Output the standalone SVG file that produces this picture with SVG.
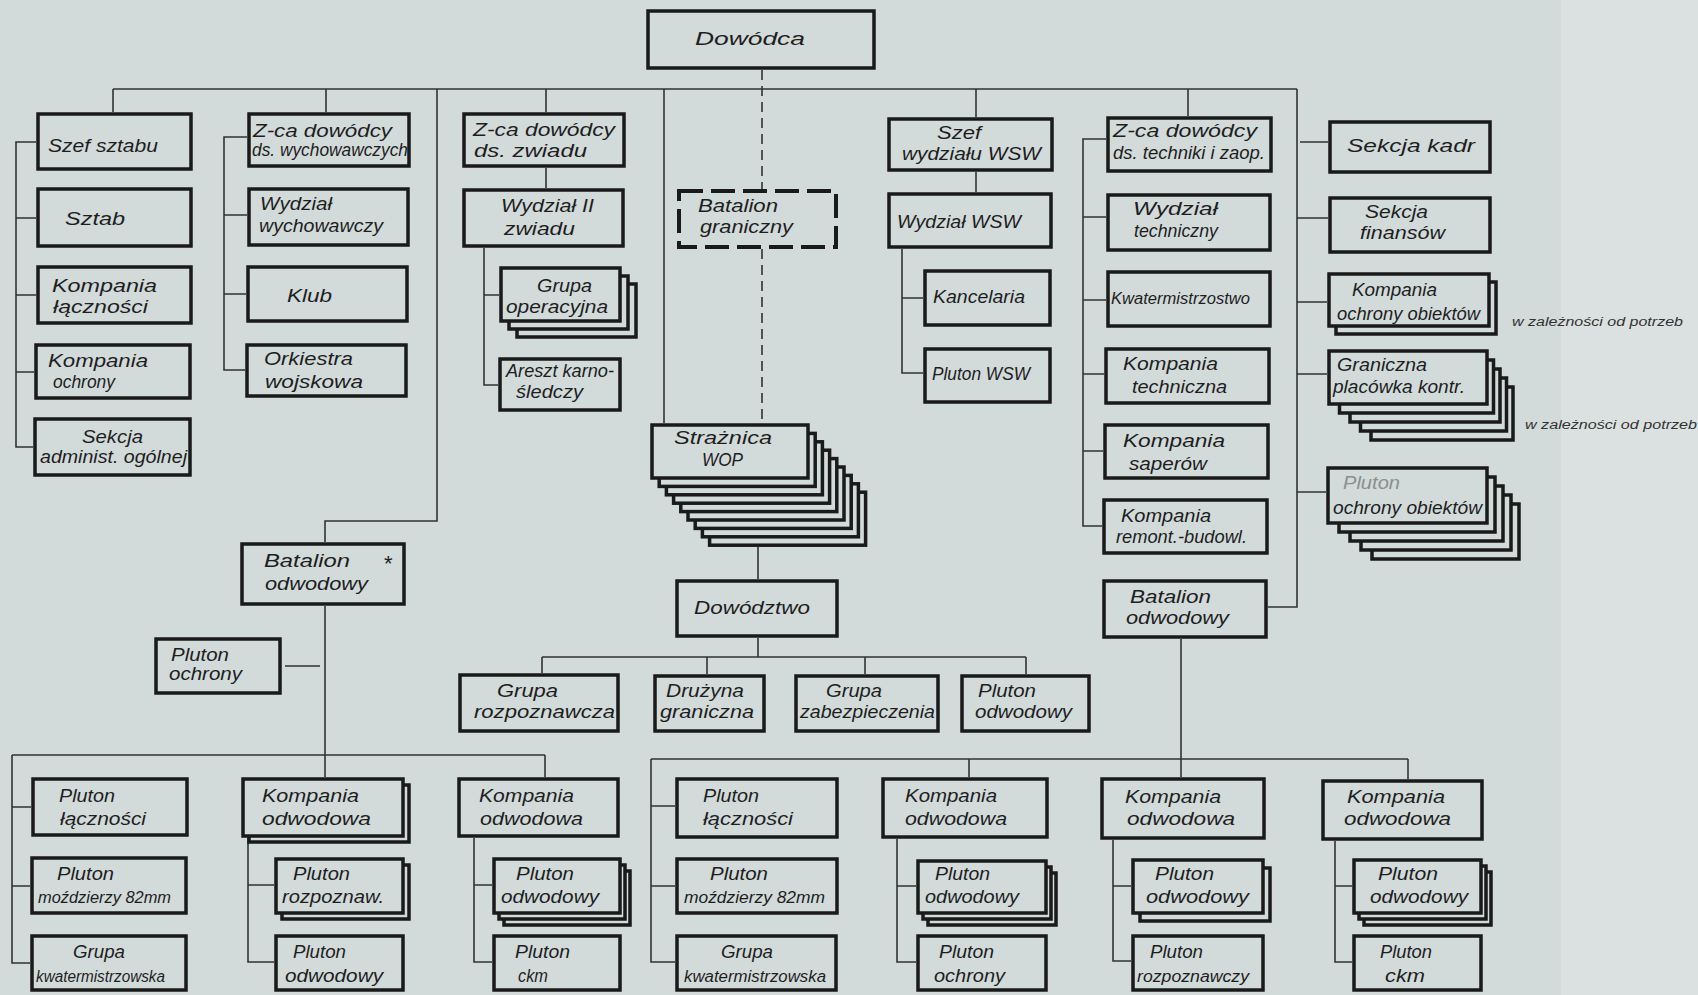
<svg xmlns="http://www.w3.org/2000/svg" width="1698" height="995" viewBox="0 0 1698 995">
<style>
.b{fill:#d2dada;stroke:#1a1a1a;stroke-width:3.5}
.bd{fill:#d2dada;stroke:#1a1a1a;stroke-width:4;stroke-dasharray:24 8}
.c{fill:none;stroke:#333;stroke-width:1.6}
.d{fill:none;stroke:#333;stroke-width:1.6;stroke-dasharray:10 6}
.t{font-family:"Liberation Sans","DejaVu Sans",sans-serif;font-style:italic;font-size:19px;fill:#1e1e1e}
.s{font-size:16px}
.n{font-size:12px;fill:#333}
.g{fill:#8a8f8f}
</style>
<rect x="0" y="0" width="1698" height="995" fill="#d2dada"/>
<rect x="1561" y="0" width="137" height="995" fill="#dbe1e0"/>

<g id="connectors">
<path class="c" d="M113 89H1297M113 89V112M326 89V112M437 89V521H325V542M546 89V112M546 168V188M664 89V423M976 89V117M976 172V192M1188 89V116M1297 89V607H1268"/>
<path class="d" d="M762 70V189M762 249V423"/>
<path class="c" d="M36 142H16V447H33M16 218H36M16 295H36M16 372H34"/>
<path class="c" d="M247 137H224V370H245M224 215H247M224 294H246"/>
<path class="c" d="M484 248V385H498M484 295H499"/>
<path class="c" d="M902 249V373H923M902 298H923"/>
<path class="c" d="M1106 139H1083V526H1102M1083 217H1106M1083 300H1106M1083 374H1104M1083 451H1103"/>
<path class="c" d="M1300 142H1328M1297 218H1328M1297 302H1327M1297 374H1327M1297 492H1326"/>
<path class="c" d="M758 547V579M758 638V657M542 657H1026M542 657V673M707 657V674M865 657V674M1026 657V674"/>
<path class="c" d="M325 606V777M285 666H320M12 755H545M12 755V963H30M12 807H31M12 886H30M545 755V777"/>
<path class="c" d="M248 838V962H274M248 885H274M474 838V962H492M474 885H492"/>
<path class="c" d="M1181 639V777M651 759H1408M651 759V962H675M651 806H675M651 886H675M969 759V777M1408 759V779"/>
<path class="c" d="M897 839V962H916M897 886H916M1113 840V961H1131M1113 886H1131M1335 841V962H1352M1335 886H1352"/>
</g>

<g id="dowodca"><rect class="b" x="648" y="11" width="226" height="57"/><text class="t" x="695" y="45" textLength="110" lengthAdjust="spacingAndGlyphs">Dowódca</text></g>

<g id="szef-sztabu"><rect class="b" x="38" y="114" width="153" height="55"/><text class="t" x="48" y="152" textLength="110" lengthAdjust="spacingAndGlyphs">Szef sztabu</text></g>
<g id="sztab"><rect class="b" x="38" y="189" width="153" height="57"/><text class="t" x="65" y="225" textLength="60" lengthAdjust="spacingAndGlyphs">Sztab</text></g>
<g id="kompania-lacznosci"><rect class="b" x="38" y="267" width="153" height="56"/><text class="t" x="52" y="292" textLength="105" lengthAdjust="spacingAndGlyphs">Kompania</text><text class="t" x="53" y="313" textLength="95" lengthAdjust="spacingAndGlyphs">łączności</text></g>
<g id="kompania-ochrony"><rect class="b" x="36" y="345" width="154" height="53"/><text class="t" x="48" y="367" textLength="100" lengthAdjust="spacingAndGlyphs">Kompania</text><text class="t" x="53" y="388" textLength="62" lengthAdjust="spacingAndGlyphs">ochrony</text></g>
<g id="sekcja-administ"><rect class="b" x="35" y="419" width="155" height="56"/><text class="t" x="82" y="443" textLength="61" lengthAdjust="spacingAndGlyphs">Sekcja</text><text class="t" x="40" y="463" textLength="147" lengthAdjust="spacingAndGlyphs">administ. ogólnej</text></g>

<g id="zca-wych"><rect class="b" x="249" y="114" width="160" height="52"/><text class="t" x="253" y="137" textLength="139" lengthAdjust="spacingAndGlyphs">Z-ca  dowódcy</text><text class="t" x="252" y="156" textLength="156" lengthAdjust="spacingAndGlyphs">ds. wychowawczych</text></g>
<g id="wydzial-wych"><rect class="b" x="249" y="189" width="159" height="56"/><text class="t" x="260" y="210" textLength="72" lengthAdjust="spacingAndGlyphs">Wydział</text><text class="t" x="259" y="232" textLength="124" lengthAdjust="spacingAndGlyphs">wychowawczy</text></g>
<g id="klub"><rect class="b" x="248" y="267" width="159" height="54"/><text class="t" x="287" y="302" textLength="45" lengthAdjust="spacingAndGlyphs">Klub</text></g>
<g id="orkiestra"><rect class="b" x="247" y="345" width="159" height="51"/><text class="t" x="264" y="365" textLength="89" lengthAdjust="spacingAndGlyphs">Orkiestra</text><text class="t" x="265" y="388" textLength="98" lengthAdjust="spacingAndGlyphs">wojskowa</text></g>

<g id="zca-zwiadu"><rect class="b" x="464" y="114" width="160" height="52"/><text class="t" x="473" y="136" textLength="142" lengthAdjust="spacingAndGlyphs">Z-ca dowódcy</text><text class="t" x="474" y="157" textLength="113" lengthAdjust="spacingAndGlyphs">ds. zwiadu</text></g>
<g id="wydzial-ii"><rect class="b" x="464" y="190" width="159" height="56"/><text class="t" x="501" y="212" textLength="93" lengthAdjust="spacingAndGlyphs">Wydział II</text><text class="t" x="504" y="235" textLength="71" lengthAdjust="spacingAndGlyphs">zwiadu</text></g>
<g id="grupa-operacyjna"><rect class="b" x="517" y="284" width="119" height="53"/><rect class="b" x="509" y="276" width="119" height="53"/><rect class="b" x="501" y="268" width="119" height="53"/><text class="t" x="537" y="292" textLength="55" lengthAdjust="spacingAndGlyphs">Grupa</text><text class="t" x="506" y="313" textLength="102" lengthAdjust="spacingAndGlyphs">operacyjna</text></g>
<g id="areszt"><rect class="b" x="500" y="359" width="120" height="51"/><text class="t" x="506" y="377" textLength="108" lengthAdjust="spacingAndGlyphs">Areszt karno-</text><text class="t" x="516" y="398" textLength="67" lengthAdjust="spacingAndGlyphs">śledczy</text></g>

<g id="batalion-graniczny"><rect class="bd" x="679" y="191" width="157" height="56"/><text class="t" x="698" y="212" textLength="80" lengthAdjust="spacingAndGlyphs">Batalion</text><text class="t" x="700" y="233" textLength="93" lengthAdjust="spacingAndGlyphs">graniczny</text></g>

<g id="straznica-wop">
<rect class="b" x="709.6" y="492.2" width="156" height="53"/>
<rect class="b" x="702.4" y="483.8" width="156" height="53"/>
<rect class="b" x="695.2" y="475.4" width="156" height="53"/>
<rect class="b" x="688" y="467" width="156" height="53"/>
<rect class="b" x="680.8" y="458.6" width="156" height="53"/>
<rect class="b" x="673.6" y="450.2" width="156" height="53"/>
<rect class="b" x="666.4" y="441.8" width="156" height="53"/>
<rect class="b" x="659.2" y="433.4" width="156" height="53"/>
<rect class="b" x="652" y="425" width="156" height="53"/>
<text class="t" x="674" y="444" textLength="98" lengthAdjust="spacingAndGlyphs">Strażnica</text><text class="t" x="702" y="466" textLength="41" lengthAdjust="spacingAndGlyphs">WOP</text></g>

<g id="szef-wsw"><rect class="b" x="889" y="119" width="163" height="51"/><text class="t" x="937" y="139" textLength="44" lengthAdjust="spacingAndGlyphs">Szef</text><text class="t" x="902" y="160" textLength="139" lengthAdjust="spacingAndGlyphs">wydziału WSW</text></g>
<g id="wydzial-wsw"><rect class="b" x="889" y="194" width="162" height="53"/><text class="t" x="897" y="228" textLength="124" lengthAdjust="spacingAndGlyphs">Wydział  WSW</text></g>
<g id="kancelaria"><rect class="b" x="925" y="271" width="125" height="54"/><text class="t" x="933" y="303" textLength="92" lengthAdjust="spacingAndGlyphs">Kancelaria</text></g>
<g id="pluton-wsw"><rect class="b" x="925" y="349" width="125" height="53"/><text class="t" x="932" y="380" textLength="98" lengthAdjust="spacingAndGlyphs">Pluton  WSW</text></g>

<g id="zca-tech"><rect class="b" x="1108" y="118" width="163" height="53"/><text class="t" x="1113" y="137" textLength="144" lengthAdjust="spacingAndGlyphs">Z-ca dowódcy</text><text class="t" x="1113" y="159" textLength="152" lengthAdjust="spacingAndGlyphs">ds. techniki i zaop.</text></g>
<g id="wydzial-tech"><rect class="b" x="1108" y="195" width="162" height="55"/><text class="t" x="1133" y="215" textLength="85" lengthAdjust="spacingAndGlyphs">Wydział</text><text class="t" x="1134" y="237" textLength="84" lengthAdjust="spacingAndGlyphs">techniczny</text></g>
<g id="kwatermistrzostwo"><rect class="b" x="1108" y="272" width="162" height="54"/><text class="t s" x="1111" y="304" textLength="139" lengthAdjust="spacingAndGlyphs">Kwatermistrzostwo</text></g>
<g id="kompania-techniczna"><rect class="b" x="1106" y="349" width="163" height="54"/><text class="t" x="1123" y="370" textLength="95" lengthAdjust="spacingAndGlyphs">Kompania</text><text class="t" x="1132" y="393" textLength="95" lengthAdjust="spacingAndGlyphs">techniczna</text></g>
<g id="kompania-saperow"><rect class="b" x="1105" y="425" width="163" height="53"/><text class="t" x="1123" y="447" textLength="102" lengthAdjust="spacingAndGlyphs">Kompania</text><text class="t" x="1129" y="470" textLength="78" lengthAdjust="spacingAndGlyphs">saperów</text></g>
<g id="kompania-remont"><rect class="b" x="1104" y="500" width="163" height="53"/><text class="t" x="1121" y="522" textLength="90" lengthAdjust="spacingAndGlyphs">Kompania</text><text class="t" x="1116" y="543" textLength="131" lengthAdjust="spacingAndGlyphs">remont.-budowl.</text></g>
<g id="batalion-odwodowy-r"><rect class="b" x="1104" y="581" width="162" height="56"/><text class="t" x="1130" y="603" textLength="81" lengthAdjust="spacingAndGlyphs">Batalion</text><text class="t" x="1126" y="624" textLength="103" lengthAdjust="spacingAndGlyphs">odwodowy</text></g>

<g id="sekcja-kadr"><rect class="b" x="1330" y="122" width="160" height="50"/><text class="t" x="1347" y="152" textLength="128" lengthAdjust="spacingAndGlyphs">Sekcja  kadr</text></g>
<g id="sekcja-finansow"><rect class="b" x="1330" y="198" width="160" height="54"/><text class="t" x="1365" y="218" textLength="63" lengthAdjust="spacingAndGlyphs">Sekcja</text><text class="t" x="1360" y="239" textLength="85" lengthAdjust="spacingAndGlyphs">finansów</text></g>
<g id="kompania-ochrony-obiektow"><rect class="b" x="1336" y="282" width="160" height="52"/><rect class="b" x="1329" y="274" width="160" height="52"/><text class="t" x="1352" y="296" textLength="85" lengthAdjust="spacingAndGlyphs">Kompania</text><text class="t" x="1337" y="320" textLength="143" lengthAdjust="spacingAndGlyphs">ochrony obiektów</text></g>
<g id="graniczna-placowka">
<rect class="b" x="1371" y="387" width="142" height="53"/>
<rect class="b" x="1360.5" y="378" width="146" height="53"/>
<rect class="b" x="1350" y="369" width="150" height="53"/>
<rect class="b" x="1339.5" y="360" width="154" height="53"/>
<rect class="b" x="1329" y="351" width="158" height="53"/>
<text class="t" x="1337" y="371" textLength="90" lengthAdjust="spacingAndGlyphs">Graniczna</text><text class="t" x="1333" y="393" textLength="132" lengthAdjust="spacingAndGlyphs">placówka kontr.</text></g>
<g id="pluton-ochrony-obiektow">
<rect class="b" x="1372" y="504" width="147" height="55"/>
<rect class="b" x="1361" y="495" width="150" height="55"/>
<rect class="b" x="1350" y="486" width="153" height="55"/>
<rect class="b" x="1339" y="477" width="156" height="55"/>
<rect class="b" x="1328" y="468" width="159" height="55"/>
<text class="t g" x="1343" y="489" textLength="57" lengthAdjust="spacingAndGlyphs">Pluton</text><text class="t" x="1333" y="514" textLength="149" lengthAdjust="spacingAndGlyphs">ochrony obiektów</text></g>
<g id="uwaga-1"><text class="t n" x="1512" y="326" textLength="171" lengthAdjust="spacingAndGlyphs">w zależności od potrzeb</text></g>
<g id="uwaga-2"><text class="t n" x="1525" y="429" textLength="172" lengthAdjust="spacingAndGlyphs">w zależności od potrzeb</text></g>

<g id="batalion-odwodowy-l"><rect class="b" x="242" y="544" width="162" height="60"/><text class="t" x="264" y="567" textLength="86" lengthAdjust="spacingAndGlyphs">Batalion</text><text class="t" x="265" y="590" textLength="103" lengthAdjust="spacingAndGlyphs">odwodowy</text><text class="t" x="384" y="571" style="font-size:22px;font-style:normal">*</text></g>
<g id="pluton-ochrony-l"><rect class="b" x="156" y="639" width="124" height="54"/><text class="t" x="171" y="661" textLength="58" lengthAdjust="spacingAndGlyphs">Pluton</text><text class="t" x="169" y="680" textLength="73" lengthAdjust="spacingAndGlyphs">ochrony</text></g>

<g id="dowodztwo"><rect class="b" x="677" y="581" width="160" height="55"/><text class="t" x="694" y="614" textLength="116" lengthAdjust="spacingAndGlyphs">Dowództwo</text></g>
<g id="grupa-rozpoznawcza"><rect class="b" x="460" y="675" width="158" height="56"/><text class="t" x="497" y="697" textLength="61" lengthAdjust="spacingAndGlyphs">Grupa</text><text class="t" x="474" y="718" textLength="141" lengthAdjust="spacingAndGlyphs">rozpoznawcza</text></g>
<g id="druzyna-graniczna"><rect class="b" x="655" y="676" width="109" height="55"/><text class="t" x="666" y="697" textLength="78" lengthAdjust="spacingAndGlyphs">Drużyna</text><text class="t" x="660" y="718" textLength="94" lengthAdjust="spacingAndGlyphs">graniczna</text></g>
<g id="grupa-zabezpieczenia"><rect class="b" x="796" y="676" width="142" height="55"/><text class="t" x="826" y="697" textLength="56" lengthAdjust="spacingAndGlyphs">Grupa</text><text class="t" x="800" y="718" textLength="135" lengthAdjust="spacingAndGlyphs">zabezpieczenia</text></g>
<g id="pluton-odwodowy-m"><rect class="b" x="962" y="676" width="127" height="55"/><text class="t" x="978" y="697" textLength="58" lengthAdjust="spacingAndGlyphs">Pluton</text><text class="t" x="975" y="718" textLength="97" lengthAdjust="spacingAndGlyphs">odwodowy</text></g>

<g id="l-pluton-lacznosci"><rect class="b" x="33" y="779" width="154" height="56"/><text class="t" x="59" y="802" textLength="56" lengthAdjust="spacingAndGlyphs">Pluton</text><text class="t" x="60" y="825" textLength="86" lengthAdjust="spacingAndGlyphs">łączności</text></g>
<g id="l-pluton-mozdzierzy"><rect class="b" x="32" y="858" width="154" height="55"/><text class="t" x="57" y="880" textLength="57" lengthAdjust="spacingAndGlyphs">Pluton</text><text class="t s" x="38" y="903" textLength="133" lengthAdjust="spacingAndGlyphs">moździerzy 82mm</text></g>
<g id="l-grupa-kwat"><rect class="b" x="32" y="936" width="154" height="54"/><text class="t" x="73" y="958" textLength="52" lengthAdjust="spacingAndGlyphs">Grupa</text><text class="t s" x="36" y="982" textLength="129" lengthAdjust="spacingAndGlyphs">kwatermistrzowska</text></g>
<g id="l-kompania-1"><rect class="b" x="249" y="785" width="160" height="57"/><rect class="b" x="243" y="779" width="160" height="57"/><text class="t" x="262" y="802" textLength="97" lengthAdjust="spacingAndGlyphs">Kompania</text><text class="t" x="262" y="825" textLength="109" lengthAdjust="spacingAndGlyphs">odwodowa</text></g>
<g id="l-pluton-rozpoznaw"><rect class="b" x="282" y="865" width="127" height="54"/><rect class="b" x="276" y="859" width="127" height="54"/><text class="t" x="293" y="880" textLength="57" lengthAdjust="spacingAndGlyphs">Pluton</text><text class="t" x="282" y="903" textLength="102" lengthAdjust="spacingAndGlyphs">rozpoznaw.</text></g>
<g id="l-pluton-odwodowy-1"><rect class="b" x="276" y="936" width="127" height="54"/><text class="t" x="293" y="958" textLength="53" lengthAdjust="spacingAndGlyphs">Pluton</text><text class="t" x="285" y="982" textLength="98" lengthAdjust="spacingAndGlyphs">odwodowy</text></g>
<g id="l-kompania-2"><rect class="b" x="459" y="779" width="159" height="57"/><text class="t" x="479" y="802" textLength="95" lengthAdjust="spacingAndGlyphs">Kompania</text><text class="t" x="480" y="825" textLength="103" lengthAdjust="spacingAndGlyphs">odwodowa</text></g>
<g id="l-pluton-odwodowy-2"><rect class="b" x="504" y="871" width="126" height="54"/><rect class="b" x="499" y="865" width="126" height="54"/><rect class="b" x="494" y="859" width="126" height="54"/><text class="t" x="516" y="880" textLength="58" lengthAdjust="spacingAndGlyphs">Pluton</text><text class="t" x="501" y="903" textLength="98" lengthAdjust="spacingAndGlyphs">odwodowy</text></g>
<g id="l-pluton-ckm"><rect class="b" x="494" y="936" width="126" height="54"/><text class="t" x="515" y="958" textLength="55" lengthAdjust="spacingAndGlyphs">Pluton</text><text class="t" x="518" y="982" textLength="30" lengthAdjust="spacingAndGlyphs">ckm</text></g>

<g id="r-pluton-lacznosci"><rect class="b" x="677" y="779" width="160" height="58"/><text class="t" x="703" y="802" textLength="56" lengthAdjust="spacingAndGlyphs">Pluton</text><text class="t" x="703" y="825" textLength="90" lengthAdjust="spacingAndGlyphs">łączności</text></g>
<g id="r-pluton-mozdzierzy"><rect class="b" x="677" y="859" width="160" height="54"/><text class="t" x="710" y="880" textLength="58" lengthAdjust="spacingAndGlyphs">Pluton</text><text class="t s" x="684" y="903" textLength="141" lengthAdjust="spacingAndGlyphs">moździerzy 82mm</text></g>
<g id="r-grupa-kwat"><rect class="b" x="677" y="936" width="159" height="54"/><text class="t" x="721" y="958" textLength="52" lengthAdjust="spacingAndGlyphs">Grupa</text><text class="t s" x="684" y="982" textLength="142" lengthAdjust="spacingAndGlyphs">kwatermistrzowska</text></g>
<g id="r-kompania-1"><rect class="b" x="883" y="779" width="164" height="58"/><text class="t" x="905" y="802" textLength="92" lengthAdjust="spacingAndGlyphs">Kompania</text><text class="t" x="905" y="825" textLength="102" lengthAdjust="spacingAndGlyphs">odwodowa</text></g>
<g id="r-pluton-odwodowy-1"><rect class="b" x="928" y="873" width="128" height="52"/><rect class="b" x="923" y="867" width="128" height="52"/><rect class="b" x="918" y="861" width="128" height="52"/><text class="t" x="935" y="880" textLength="55" lengthAdjust="spacingAndGlyphs">Pluton</text><text class="t" x="925" y="903" textLength="94" lengthAdjust="spacingAndGlyphs">odwodowy</text></g>
<g id="r-pluton-ochrony"><rect class="b" x="918" y="936" width="128" height="54"/><text class="t" x="939" y="958" textLength="55" lengthAdjust="spacingAndGlyphs">Pluton</text><text class="t" x="934" y="982" textLength="71" lengthAdjust="spacingAndGlyphs">ochrony</text></g>
<g id="r-kompania-2"><rect class="b" x="1102" y="779" width="162" height="59"/><text class="t" x="1125" y="803" textLength="96" lengthAdjust="spacingAndGlyphs">Kompania</text><text class="t" x="1127" y="825" textLength="108" lengthAdjust="spacingAndGlyphs">odwodowa</text></g>
<g id="r-pluton-odwodowy-2"><rect class="b" x="1140" y="868" width="130" height="53"/><rect class="b" x="1133" y="860" width="130" height="53"/><text class="t" x="1155" y="880" textLength="59" lengthAdjust="spacingAndGlyphs">Pluton</text><text class="t" x="1146" y="903" textLength="103" lengthAdjust="spacingAndGlyphs">odwodowy</text></g>
<g id="r-pluton-rozpoznawczy"><rect class="b" x="1133" y="936" width="130" height="54"/><text class="t" x="1150" y="958" textLength="53" lengthAdjust="spacingAndGlyphs">Pluton</text><text class="t s" x="1137" y="982" textLength="112" lengthAdjust="spacingAndGlyphs">rozpoznawczy</text></g>
<g id="r-kompania-3"><rect class="b" x="1323" y="781" width="159" height="58"/><text class="t" x="1347" y="803" textLength="98" lengthAdjust="spacingAndGlyphs">Kompania</text><text class="t" x="1344" y="825" textLength="107" lengthAdjust="spacingAndGlyphs">odwodowa</text></g>
<g id="r-pluton-odwodowy-3"><rect class="b" x="1364" y="872" width="127" height="53"/><rect class="b" x="1359" y="866" width="127" height="53"/><rect class="b" x="1354" y="860" width="127" height="53"/><text class="t" x="1378" y="880" textLength="60" lengthAdjust="spacingAndGlyphs">Pluton</text><text class="t" x="1370" y="903" textLength="98" lengthAdjust="spacingAndGlyphs">odwodowy</text></g>
<g id="r-pluton-ckm"><rect class="b" x="1354" y="936" width="127" height="54"/><text class="t" x="1380" y="958" textLength="52" lengthAdjust="spacingAndGlyphs">Pluton</text><text class="t" x="1385" y="982" textLength="40" lengthAdjust="spacingAndGlyphs">ckm</text></g>
</svg>
